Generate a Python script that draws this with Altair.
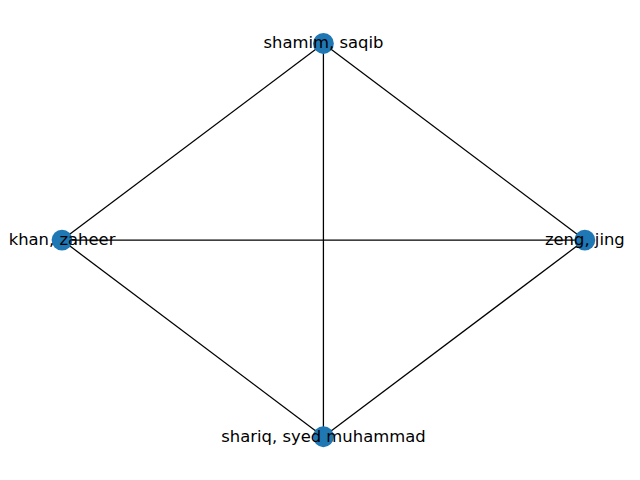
import altair as alt
import pandas as pd

names = ["shamim, saqib", "khan, zaheer", "zeng, jing", "shariq, syed muhammad"]
pos_x = [0.0, -1.0, 1.0, 0.0]
pos_y = [1.0, 0.0, 0.0, -1.0]
edges = [(0, 1), (0, 2), (0, 3), (1, 2), (1, 3), (2, 3)]

nodes = pd.DataFrame({"name": names, "x": pos_x, "y": pos_y})
rows = []
for i, (a, b) in enumerate(edges):
    rows.append({"edge": i, "x": pos_x[a], "y": pos_y[a], "o": 0})
    rows.append({"edge": i, "x": pos_x[b], "y": pos_y[b], "o": 1})
edge_df = pd.DataFrame(rows)

xs = alt.Scale(domain=[-1.1653, 1.1805])
ys = alt.Scale(domain=[-1.159, 1.16])

lines = alt.Chart(edge_df).mark_line(color="black", strokeWidth=1.3).encode(
    x=alt.X("x:Q", scale=xs, axis=None),
    y=alt.Y("y:Q", scale=ys, axis=None),
    detail="edge:N",
    order="o:Q",
)

dots = alt.Chart(nodes).mark_circle(size=450, color="#1f77b4", opacity=1).encode(
    x=alt.X("x:Q", scale=xs, axis=None),
    y=alt.Y("y:Q", scale=ys, axis=None),
)

labels = alt.Chart(nodes).mark_text(font="DejaVu Sans", fontSize=16.7, color="black").encode(
    x=alt.X("x:Q", scale=xs, axis=None),
    y=alt.Y("y:Q", scale=ys, axis=None),
    text="name:N",
)

chart = (lines + dots + labels).properties(
    width=624, height=464, padding=0
).configure_view(stroke=None)

chart.save("out.html", embed_options={"renderer": "svg", "actions": False})
